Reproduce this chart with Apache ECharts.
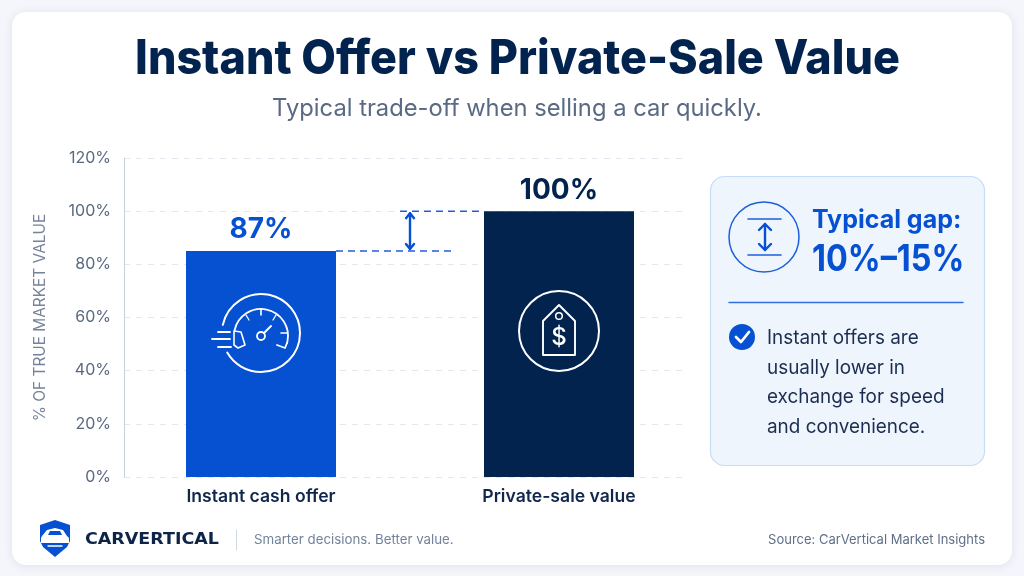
<!DOCTYPE html>
<html><head><meta charset="utf-8">
<style>html,body{margin:0;padding:0;background:#f4f6fb}#c{width:1024px;height:576px}</style>
<script src="https://cdn.jsdelivr.net/npm/echarts@6/dist/echarts.min.js"></script>
</head><body><div id="c"></div>
<script>
const categories = ['Instant cash offer', 'Private-sale value'];
const barValues = [85, 100];
const valueLabels = ['87%', '100%'];
const barColors = ['#0650d2', '#03234f'];
const title = 'Instant Offer vs Private-Sale Value';
const subtitle = 'Typical trade-off when selling a car quickly.';
const axisName = '% OF TRUE MARKET VALUE';
const noteLines = ['Instant offers are', 'usually lower in', 'exchange for speed', 'and convenience.'];

const FONT = 'Inter';
const BLUE = '#0650d2', NAVY = '#03234f';
const chart = echarts.init(document.getElementById('c'), null, {renderer: 'canvas'});

const txt = (x, y, text, size, weight, fill, align, sx) => ({
  type: 'text', z: 100, x, y, scaleX: sx || 1,
  style: {text, fontFamily: FONT, fontSize: size, fontWeight: weight, fill, align: align || 'left', verticalAlign: 'middle'}
});
const sty = (color, w, extra) => Object.assign({stroke: color, lineWidth: w, fill: 'none', lineCap: 'round', lineJoin: 'round'}, extra || {});
const line = (x1, y1, x2, y2, color, w, extra) => ({type: 'line', z: 100, shape: {x1, y1, x2, y2}, style: sty(color, w, extra)});
const circle = (cx, cy, r, color, w) => ({type: 'circle', z: 100, shape: {cx, cy, r}, style: sty(color, w)});
const arc = (cx, cy, r, a0, a1, color, w) => ({type: 'arc', z: 100, shape: {cx, cy, r, startAngle: a0 * Math.PI / 180, endAngle: a1 * Math.PI / 180, clockwise: true}, style: sty(color, w)});
const poly = (points, color, w, fill) => ({type: 'polygon', z: 100, shape: {points}, style: sty(color, w, {fill: fill || 'none'})});
const polyl = (points, color, w) => ({type: 'polyline', z: 100, shape: {points}, style: sty(color, w)});
const solid = (points, fill) => ({type: 'polygon', z: 100, shape: {points}, style: {fill}});

const W = '#ffffff';
const decor = [
  {type: 'rect', z: -5, shape: {x: 12, y: 12, width: 1000, height: 553, r: 14}, style: {fill: '#ffffff', shadowBlur: 10, shadowColor: 'rgba(30,50,90,0.10)', shadowOffsetY: 1}},
  txt(517.5, 60, title, 48, 800, NAVY, 'center', 0.935),
  txt(517, 109, subtitle, 24, 400, '#5a6a84', 'center', 0.99),
  // side panel
  {type: 'rect', z: 50, shape: {x: 710.5, y: 176.5, width: 274, height: 289, r: 14}, style: {fill: '#eff5fd', stroke: '#c6dcf8', lineWidth: 1.2}},
  circle(764, 237, 35, '#1c60da', 1.5),
  line(748, 219, 781, 219, '#1c60da', 1.6),
  line(748, 255, 781, 255, '#1c60da', 1.6),
  line(765, 224, 765, 250, BLUE, 2.4),
  polyl([[759, 230], [765, 224], [771, 230]], BLUE, 2.4),
  polyl([[759, 244], [765, 250], [771, 244]], BLUE, 2.4),
  txt(812, 220, 'Typical gap:', 25, 700, BLUE),
  txt(812, 260, '10%\u201315%', 37, 700, BLUE, 'left', 0.875),
  line(729, 302.5, 963, 302.5, '#2f6fe0', 1.4),
  {type: 'circle', z: 100, shape: {cx: 742, cy: 337, r: 13}, style: {fill: BLUE}},
  polyl([[736, 337], [741, 342], [749, 332]], W, 2.8),
  ...noteLines.map((t, i) => txt(767, [338, 368, 397, 427][i], t, 20, 400, '#1b2d50', 'left', 0.945)),
  // speedometer icon
  arc(261, 333, 39, 192, 360, W, 2),
  arc(261, 333, 39, 0, 150, W, 2),
  arc(261, 336, 27, 192, 375, W, 1.8),
  line(261, 309, 261, 315, W, 1.6), line(246, 315, 249, 320, W, 1.3), line(276, 315, 273, 320, W, 1.3),
  line(281, 333, 287, 333, W, 1.6),
  polyl([[287, 343], [285, 348], [277, 345]], W, 1.8),
  circle(261, 336, 4, W, 1.8),
  line(264, 333, 271, 326, W, 2),
  line(218, 332, 230, 332, W, 1.8), line(212, 339, 230, 339, W, 1.8), line(218, 347, 231, 347, W, 1.8),
  poly([[234, 331], [241, 332], [245, 345], [238, 348], [234, 345]], W, 1.6),
  // price tag icon
  circle(559, 331, 40, W, 2),
  poly([[559, 305], [575, 321], [575, 355], [543, 355], [543, 321]], W, 1.9),
  circle(559, 316, 3.3, W, 1.5),
  txt(559, 338, '$', 24, 500, W, 'center'),
  // footer logo
  solid([[40, 525], [55, 520], [70, 525], [70, 541], [67, 547], [55, 557], [43, 547], [40, 541]], BLUE),
  solid([[42, 536], [47, 530], [55, 528], [63, 530], [67, 536], [69, 538], [69, 543], [41, 543], [41, 538]], W),
  solid([[48, 535], [50, 531], [60, 531], [62, 535]], BLUE),
  line(48, 546, 62, 546, W, 1.3),
  txt(85, 540, 'CARVERTICAL', 16.2, 700, '#0e2348', 'left', 1.08),
  line(236.5, 530, 236.5, 550, '#d3d9e3', 1),
  txt(254, 540, 'Smarter decisions. Better value.', 13.3, 400, '#74839c'),
  txt(985, 540, 'Source: CarVertical Market Insights', 13, 400, '#5f6f8a', 'right')
];
decor.filter(e => e.style && e.style.text === 'CARVERTICAL').forEach(e => { e.style.fontFamily = 'DejaVu Sans'; });

const option = {
  backgroundColor: '#f4f6fb',
  animation: false,
  textStyle: {fontFamily: FONT},
  grid: [
    {left: 124, width: 564, top: 158, height: 319, containLabel: false},
    {left: 112, width: 596, top: 158, height: 319, containLabel: false}
  ],
  xAxis: [
    {type: 'value', gridIndex: 0, show: false, min: 0, max: 1},
    {type: 'category', gridIndex: 1, data: categories,
      axisLine: {show: false}, axisTick: {show: false},
      axisLabel: {margin: 11, fontFamily: FONT, fontSize: 17.6, fontWeight: 600, color: '#10264d'}}
  ],
  yAxis: [
    {type: 'value', gridIndex: 0, min: 0, max: 120, interval: 20,
      name: axisName, nameLocation: 'middle', nameGap: 76, nameRotate: 90,
      nameTextStyle: {fontFamily: FONT, fontSize: 15.4, color: '#76839a'},
      axisLine: {show: true, lineStyle: {color: '#c9cfda', width: 1}}, axisTick: {show: false},
      axisLabel: {margin: 13, fontFamily: FONT, fontSize: 16, color: '#5a6980', formatter: '{value}%'},
      splitLine: {show: true, lineStyle: {color: '#e2e7f0', type: [6, 6], width: 1}}},
    {type: 'value', gridIndex: 1, min: 0, max: 120, interval: 20, show: false, splitLine: {show: false}}
  ],
  series: [{
    type: 'bar', xAxisIndex: 1, yAxisIndex: 1, barWidth: 150,
    data: barValues.map((v, i) => ({
      value: v, itemStyle: {color: barColors[i]},
      label: {show: true, position: 'top', distance: 7, formatter: valueLabels[i],
        fontFamily: FONT, fontSize: 28, fontWeight: 700, color: barColors[i]}
    }))
  }],
  graphic: {elements: decor}
};
chart.setOption(option);

// gap annotation, placed through the chart's own scales
const yOf = v => chart.convertToPixel({yAxisIndex: 1}, v);
const xOf = i => chart.convertToPixel({xAxisIndex: 1}, i);
const yLow = yOf(barValues[0]), yHigh = yOf(barValues[1]);
const right0 = xOf(0) + 75, left1 = xOf(1) - 75, mid = (right0 + left1) / 2;
const GAP = '#1f5fdc';
const dash = {lineDash: [7, 5], lineCap: 'butt'};
chart.setOption({graphic: {elements: decor.concat([
  line(right0, yLow, mid + 45, yLow, GAP, 1.5, dash),
  line(mid - 10, yHigh, left1, yHigh, GAP, 1.5, dash),
  line(mid, yHigh + 2, mid, yLow - 2, BLUE, 2.4),
  polyl([[mid - 4, yHigh + 7], [mid, yHigh + 2], [mid + 4, yHigh + 7]], BLUE, 2.4),
  polyl([[mid - 4, yLow - 7], [mid, yLow - 2], [mid + 4, yLow - 7]], BLUE, 2.4)
])}});
</script></body></html>
